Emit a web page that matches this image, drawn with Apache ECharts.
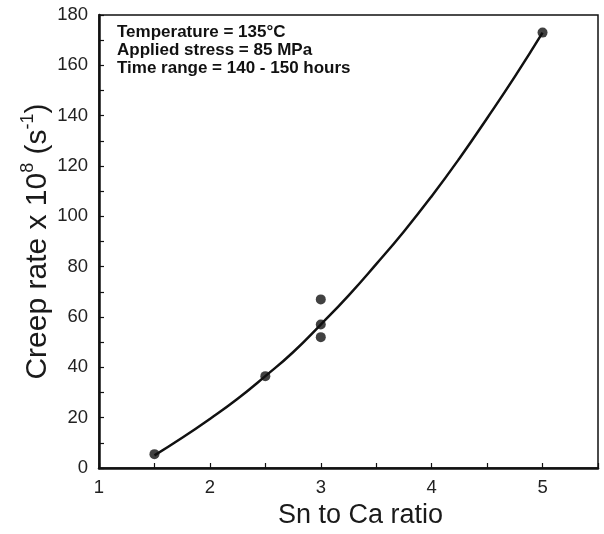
<!DOCTYPE html>
<html>
<head>
<meta charset="utf-8">
<script src="https://cdn.jsdelivr.net/npm/echarts@6/dist/echarts.min.js"></script>
<style>
  html, body { margin: 0; padding: 0; background: #fff; }
  #chart { width: 604px; height: 534px; }
</style>
</head>
<body>
<div id="chart"></div>
<script>
// Measured creep rates (x 1e-8 s^-1) against Sn:Ca ratio
const ratios = [1.5, 2.5, 3, 3, 3, 5];
const creepRates = [5.5, 36.5, 67, 57, 52, 173];

// Fitted trend curve, sampled along its length
const fitRatios = [1.5, 1.75, 2, 2.25, 2.5, 2.75, 3, 3.25, 3.5, 3.75, 4, 4.25, 4.5, 4.75, 5];
const fitRates  = [5, 12, 19.5, 27.5, 36.5, 46, 57, 68.5, 81, 94, 108, 123, 139, 155.5, 173];

const conditions = [
  'Temperature = 135°C',
  'Applied stress = 85 MPa',
  'Time range = 140 - 150 hours'
];

const font = '"Liberation Sans", Arial, sans-serif';
const chart = echarts.init(document.getElementById('chart'));

chart.setOption({
  animation: false,
  backgroundColor: '#fff',
  grid: {
    left: 99, right: 6, top: 15, bottom: 60,
    show: true, borderColor: '#111', borderWidth: 1.5, backgroundColor: 'transparent'
  },
  xAxis: {
    type: 'value', min: 1, max: 5.5, interval: 1,
    name: 'Sn to Ca ratio', nameLocation: 'middle', nameGap: 34, nameMoveOverlap: false,
    nameTextStyle: { fontFamily: font, fontSize: 27, color: '#1a1a1a', padding: [0, 0, 0, 24] },
    axisLine: { show: true, onZero: false, lineStyle: { color: '#111', width: 2.5 } },
    axisTick: { show: true, inside: true, length: 5, lineStyle: { color: '#111', width: 1.2 } },
    minorTick: { show: true, splitNumber: 2, length: 5, lineStyle: { color: '#111', width: 1.2 } },
    splitLine: { show: false },
    axisLabel: {
      fontFamily: font, fontSize: 18.5, color: '#222', margin: 10,
      formatter: v => (v <= 5 ? String(v) : '')
    }
  },
  yAxis: {
    type: 'value', min: 0, max: 180, interval: 20,
    name: '{a|Creep rate x 10}{s|8}{a| (s}{s|-1}{a|)}',
    nameLocation: 'middle', nameGap: 46, nameRotate: 90, nameMoveOverlap: false,
    nameTextStyle: {
      fontFamily: font, color: '#1a1a1a',
      rich: {
        a: { fontFamily: font, fontSize: 30, color: '#1a1a1a', lineHeight: 34, verticalAlign: 'bottom' },
        s: { fontFamily: font, fontSize: 18, color: '#1a1a1a', lineHeight: 34, verticalAlign: 'top' }
      }
    },
    axisLine: { show: true, onZero: false, lineStyle: { color: '#111', width: 2.5 } },
    axisTick: { show: true, inside: true, length: 5, lineStyle: { color: '#111', width: 1.2 } },
    minorTick: { show: true, splitNumber: 2, length: 5, lineStyle: { color: '#111', width: 1.2 } },
    splitLine: { show: false },
    axisLabel: { fontFamily: font, fontSize: 18.5, color: '#222', margin: 11 }
  },
  graphic: conditions.map((t, i) => ({
    type: 'text', left: 117, top: 24 + i * 18,
    style: { text: t, fontFamily: font, fontSize: 17, fontWeight: 'bold', fill: '#111' }
  })),
  series: [
    {
      type: 'line',
      data: fitRatios.map((x, i) => [x, fitRates[i]]),
      smooth: true, showSymbol: false,
      lineStyle: { color: '#111', width: 2.5 },
      silent: true, z: 2
    },
    {
      type: 'scatter',
      data: ratios.map((x, i) => [x, creepRates[i]]),
      symbol: 'circle', symbolSize: 10,
      itemStyle: { color: '#111' },
      z: 3
    }
  ]
});
</script>
</body>
</html>
